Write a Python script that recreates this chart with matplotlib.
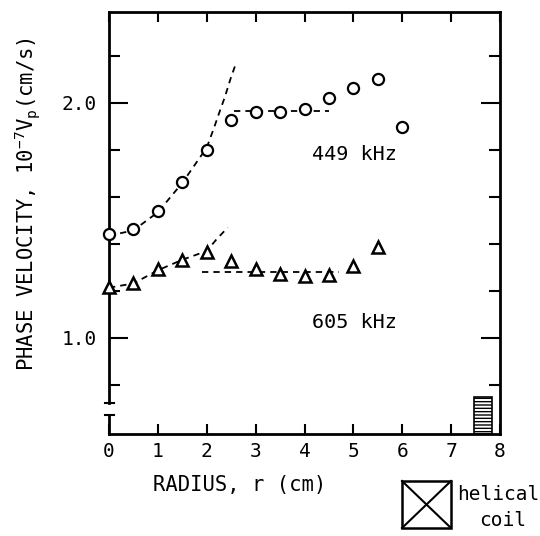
import matplotlib
matplotlib.use('Agg')
from matplotlib import pyplot as plt
from matplotlib.patches import Rectangle
from matplotlib.lines import Line2D
from matplotlib.ticker import FixedLocator

plt.rcParams['font.family'] = ['DejaVu Sans Mono']
plt.rcParams['mathtext.fontset'] = 'custom'
plt.rcParams['mathtext.rm'] = 'DejaVu Sans Mono'
plt.rcParams['mathtext.it'] = 'DejaVu Sans Mono'

# measured points
r_449 = [0, 0.5, 1.0, 1.5, 2.0, 2.5, 3.0, 3.5, 4.0, 4.5, 5.0, 5.5, 6.0]
v_449 = [1.441, 1.462, 1.542, 1.665, 1.801, 1.928, 1.962, 1.962, 1.975, 2.021, 2.064, 2.102, 1.898]

r_605 = [0, 0.5, 1.0, 1.5, 2.0, 2.5, 3.0, 3.5, 4.0, 4.5, 5.0, 5.5]
v_605 = [1.216, 1.233, 1.292, 1.331, 1.364, 1.326, 1.292, 1.271, 1.263, 1.267, 1.305, 1.386]

# dashed guide curves
fit449_r = [0, 0.5, 1.0, 1.5, 2.0, 2.15, 2.25, 2.37, 2.49, 2.6]
fit449_v = [1.435, 1.458, 1.535, 1.66, 1.81, 1.895, 1.955, 2.025, 2.105, 2.17]
flat449_r = [2.55, 4.5]
flat449_v = [1.965, 1.965]

fit605_r = [0, 0.5, 1.0, 1.5, 2.0, 2.2, 2.43]
fit605_v = [1.214, 1.232, 1.288, 1.333, 1.37, 1.42, 1.47]
flat605_r = [1.9, 4.7]
flat605_v = [1.28, 1.28]

ylo, yhi = 0.5915, 2.387

fig = plt.figure(figsize=(5.4, 5.36), dpi=100)
ax = fig.add_axes([109 / 540, 102 / 536, 391 / 540, 422 / 536])
ax.set_xlim(0, 8)
ax.set_ylim(ylo, yhi)

dash = dict(color='black', lw=1.3, dashes=(3.5, 2.8))
ax.plot(fit449_r, fit449_v, **dash)
ax.plot(flat449_r, flat449_v, **dash)
ax.plot(fit605_r, fit605_v, **dash)
ax.plot(flat605_r, flat605_v, **dash)

ax.plot(r_449, v_449, 'o', ms=8, mfc='white', mec='black', mew=1.6, clip_on=False, zorder=3)
ax.plot(r_605, v_605, '^', ms=9, mfc='white', mec='black', mew=1.8, clip_on=False, zorder=3)

ax.text(5.03, 1.779, '449 kHz', fontsize=14.5, ha='center', va='center')
ax.text(5.03, 1.064, '605 kHz', fontsize=14.5, ha='center', va='center')

# helical coil position
ax.add_patch(Rectangle((7.47, ylo), 0.36, 0.749 - ylo, facecolor='white',
                       edgecolor='black', hatch='-----', lw=1.2))

# ticks
ax.set_xticks(range(0, 9))
ax.tick_params(axis='x', direction='in', length=7, width=1.5, top=True,
               labelsize=14, pad=6)
ax.yaxis.set_major_locator(FixedLocator([1.0, 2.0]))
ax.yaxis.set_minor_locator(FixedLocator([0.8, 1.2, 1.4, 1.6, 1.8, 2.2]))
ax.set_yticklabels(['1.0', '2.0'])
ax.tick_params(axis='y', which='major', direction='in', length=14, width=1.5,
               right=True, labelsize=14, pad=9)
ax.tick_params(axis='y', which='minor', direction='in', length=8, width=1.5,
               right=True)

for s in ['top', 'right', 'bottom']:
    ax.spines[s].set_linewidth(2)
ax.spines['left'].set_visible(False)

# broken left axis
brk_hi = (434 - 403) / 422
brk_lo = (434 - 415) / 422
ax.plot([0, 0], [brk_hi, 1], transform=ax.transAxes, color='black', lw=2, clip_on=False)
ax.plot([0, 0], [0, brk_lo], transform=ax.transAxes, color='black', lw=2, clip_on=False)
ax.plot([-0.01, 0.012], [brk_hi, brk_hi], transform=ax.transAxes, color='black', lw=1.5, clip_on=False)
ax.plot([-0.01, 0.012], [brk_lo, brk_lo], transform=ax.transAxes, color='black', lw=1.5, clip_on=False)

fig.text(28 / 540, 1 - 204 / 536, 'PHASE VELOCITY, 10$^{-7}$V$_\\mathrm{p}$(cm/s)',
         rotation=90, fontsize=14.8, ha='center', va='center')
fig.text(240 / 540, 1 - 485 / 536, 'RADIUS, r (cm)', fontsize=14.8, ha='center', va='center')

# legend box for the coil
bx, by, bw, bh = 402 / 540, 8 / 536, 49 / 540, 47 / 536
fig.add_artist(Rectangle((bx, by), bw, bh, transform=fig.transFigure,
                         facecolor='none', edgecolor='black', lw=1.8))
fig.add_artist(Line2D([bx, bx + bw], [by, by + bh], transform=fig.transFigure, color='black', lw=1.5))
fig.add_artist(Line2D([bx, bx + bw], [by + bh, by], transform=fig.transFigure, color='black', lw=1.5))
fig.text(457 / 540, 1 - 495 / 536, 'helical', fontsize=14, ha='left', va='center')
fig.text(503 / 540, 1 - 520 / 536, 'coil', fontsize=14, ha='center', va='center')

fig.savefig('out.png', dpi=100)
